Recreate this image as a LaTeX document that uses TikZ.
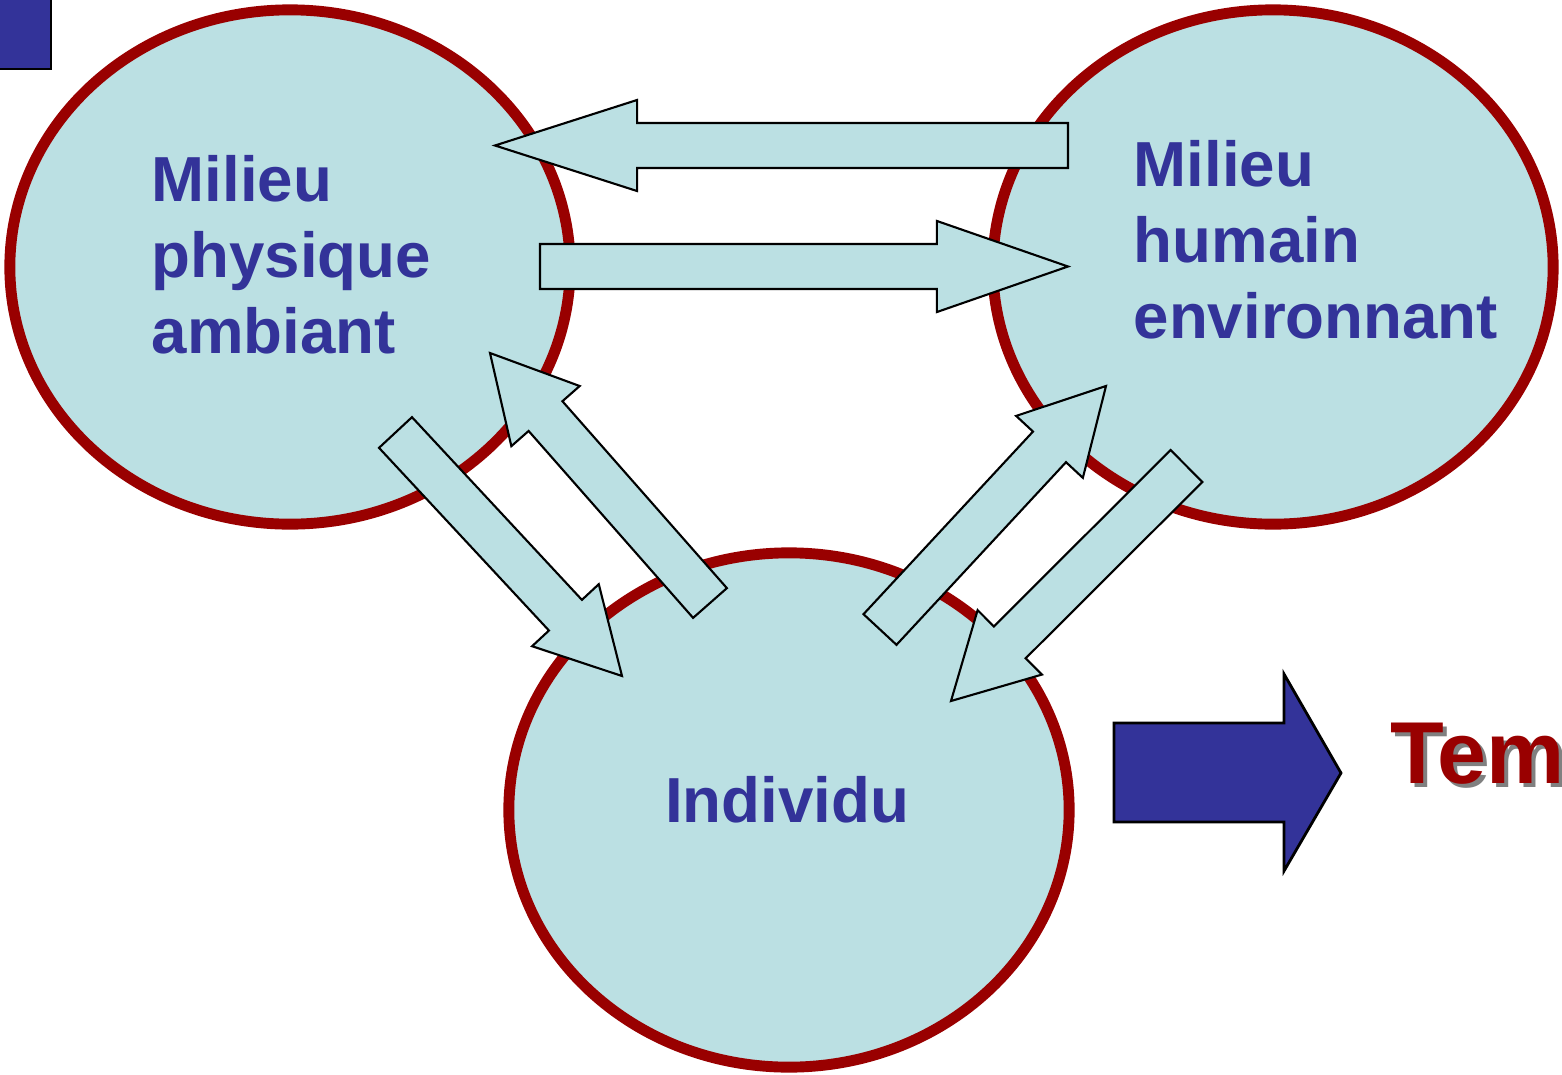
\documentclass[tikz,border=0pt]{standalone}
\usepackage{fontspec}
\setmainfont{Liberation Sans}
\usetikzlibrary{shapes.geometric,calc}

\definecolor{bleu}{HTML}{333399}
\definecolor{ciel}{HTML}{BBE0E3}
\definecolor{bordeaux}{HTML}{990000}

% block arrow: name, tail, tip, head length
\newcommand{\fleche}[4]{%
  \coordinate (#1h) at ($(#3)!#4!(#2)$);
  \draw[flux] ($(#2)!0.225cm!90:(#3)$) -- ($(#1h)!0.225cm!90:(#3)$)
    -- ($(#1h)!0.455cm!90:(#3)$) -- (#3)
    -- ($(#1h)!0.455cm!-90:(#3)$) -- ($(#1h)!0.225cm!-90:(#3)$)
    -- ($(#2)!0.225cm!-90:(#3)$) -- cycle;
}

\begin{document}
\begin{tikzpicture}[x=0.01cm,y=-0.01cm,
  milieu/.style={ellipse, draw=bordeaux, line width=3.1pt, fill=ciel,
    minimum width=5.6cm, minimum height=5.14cm},
  titre/.style={text=bleu, font=\fontsize{18.1}{21.6}\selectfont\bfseries,
    inner sep=0pt, align=left},
  flux/.style={draw=black, fill=ciel, line width=0.6pt, line join=miter},
  tempstxt/.style={font=\fontsize{25}{30}\selectfont\bfseries,
    anchor=base west, inner sep=0pt}]
\useasboundingbox (0,0) rectangle (1562,1075);

% puce
\draw[fill=bleu, line width=0.7pt] (-10,-10) rectangle (51,69);

% les trois milieux
\node[milieu] (physique) at (290,267) {};
\node[milieu] (humain) at (1273,267) {};
\node[milieu] (individu) at (789,810) {};

\node[titre, anchor=north west] (t-physique) at (151,155) {Milieu\\physique\\ambiant};
\node[titre, anchor=north west] (t-humain) at (1133,140) {Milieu\\humain\\environnant};
\node[titre, anchor=base] (t-individu) at (787,822) {Individu};

% echanges
\coordinate (hp-q) at (1068,145.5);  \coordinate (hp-p) at (495,145.5);
\coordinate (ph-q) at (540,266.5);   \coordinate (ph-p) at (1068,266.5);
\coordinate (pi-q) at (395.5,432.5); \coordinate (pi-p) at (622,676);
\coordinate (ip-q) at (710,603);     \coordinate (ip-p) at (490,353);
\coordinate (ih-q) at (880,629.5);   \coordinate (ih-p) at (1106,386);
\coordinate (hi-q) at (1186.5,466);  \coordinate (hi-p) at (951,701);

\fleche{hp}{hp-q}{hp-p}{1.42cm}
\fleche{ph}{ph-q}{ph-p}{1.31cm}
\fleche{pi}{pi-q}{pi-p}{0.83cm}
\fleche{ip}{ip-q}{ip-p}{0.84cm}
\fleche{ih}{ih-q}{ih-p}{0.83cm}
\fleche{hi}{hi-q}{hi-p}{0.83cm}

% temps
\draw[fill=bleu, line width=0.8pt] (1114,723) -- (1284,723) -- (1284,674)
  -- (1341,773) -- (1284,871) -- (1284,822) -- (1114,822) -- cycle;
\node[tempstxt, text=gray] (temps-ombre) at (1394,787) {Tem};
\node[tempstxt, text=bordeaux] (temps) at (1390,783) {Tem};
\end{tikzpicture}
\end{document}
